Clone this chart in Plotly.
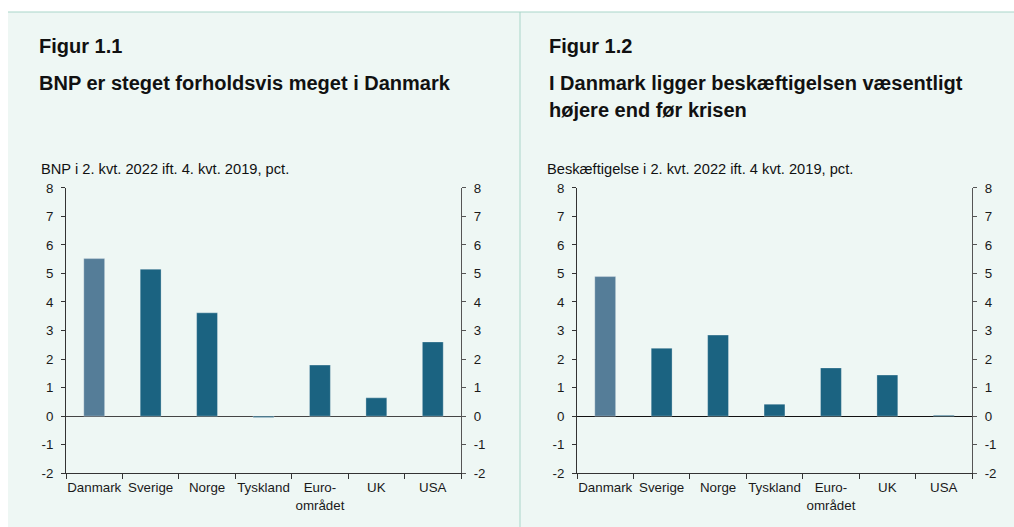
import plotly.graph_objects as go

categories = ["Danmark", "Sverige", "Norge", "Tyskland", "Euro-<br>området", "UK", "USA"]
bnp_values = [5.52, 5.15, 3.62, -0.05, 1.79, 0.64, 2.6]
besk_values = [4.89, 2.38, 2.84, 0.42, 1.69, 1.44, 0.03]
bar_colors = ["#557D98", "#1B6381", "#1B6381", "#1B6381", "#1B6381", "#1B6381", "#1B6381"]
y_ticks = [-2, -1, 0, 1, 2, 3, 4, 5, 6, 7, 8]
y_tick_text = ["-2", "-1", "0", "1", "2", "3", "4", "5", "6", "7", "8"]

W, H = 1014, 527
FONT = "Liberation Sans, Arial, sans-serif"
BG = "#EEF7F4"
BORDER = "#A9D6C9"

# the page shows the figure in a band 8..519 px high; map target pixel rows into it
TOP, SPAN = 8.0, 511.0

def px(x):
    return x / W

def py(y):
    return 1 - (y - TOP) / SPAN

fig = go.Figure()
fig.add_trace(go.Bar(x=categories, y=bnp_values, marker=dict(color=bar_colors, line=dict(color="rgba(255,255,255,0.5)", width=0.6)),
                     xaxis="x", yaxis="y", showlegend=False, hoverinfo="x+y"))
fig.add_trace(go.Bar(x=categories, y=[None]*7, xaxis="x", yaxis="y2", showlegend=False, hoverinfo="skip"))
fig.add_trace(go.Bar(x=categories, y=besk_values, marker=dict(color=bar_colors, line=dict(color="rgba(255,255,255,0.5)", width=0.6)),
                     xaxis="x2", yaxis="y3", showlegend=False, hoverinfo="x+y"))
fig.add_trace(go.Bar(x=categories, y=[None]*7, xaxis="x2", yaxis="y4", showlegend=False, hoverinfo="skip"))

ydom = [py(473.3), py(188.5)]
tickfont = dict(family=FONT, size=13.33, color="#1a1a1a")

def xaxis(dom, anchor):
    return dict(domain=dom, anchor=anchor, type="category", tickson="boundaries", ticks="outside",
                ticklen=5, tickcolor="#333", showline=True, linecolor="#333", linewidth=1, tickangle=0,
                ticklabelstandoff=2,
                tickfont=tickfont, showgrid=False, zeroline=False, fixedrange=True)

def yaxis(anchor, side, overlay=None, linecolor="#333", zerocolor="#333"):
    d = dict(domain=ydom, anchor=anchor, side=side, range=[-2, 8], tickvals=y_ticks, ticktext=y_tick_text,
             ticks="outside", ticklen=4, tickcolor=linecolor, showline=True, linecolor=linecolor, linewidth=1,
             ticklabelstandoff=5,
             tickfont=tickfont, showgrid=False, zeroline=False, fixedrange=True)
    if overlay:
        d["overlaying"] = overlay
    else:
        d["zeroline"] = True
        d["zerolinecolor"] = zerocolor
        d["zerolinewidth"] = 1
    return d

fig.update_layout(
    width=W, height=H,
    margin=dict(l=0, r=0, t=0, b=0),
    paper_bgcolor="white", plot_bgcolor="rgba(0,0,0,0)",
    bargap=0.63,
    font=dict(family=FONT, color="#1a1a1a"),
    xaxis=xaxis([px(66), px(461)], "y"),
    yaxis=yaxis("x", "left", zerocolor="#444"),
    yaxis2=yaxis("x", "right", overlay="y", linecolor="#555"),
    xaxis2=xaxis([px(577), px(972)], "y3"),
    yaxis3=yaxis("x2", "left", zerocolor="#111"),
    yaxis4=yaxis("x2", "right", overlay="y3", linecolor="#555"),
    shapes=[
        dict(type="rect", xref="paper", yref="paper", x0=px(8), x1=1, y0=-0.05, y1=py(13),
             fillcolor=BG, line=dict(width=0), layer="below"),
        dict(type="line", xref="paper", yref="paper", x0=px(8), x1=1, y0=py(13), y1=py(13),
             line=dict(color=BORDER, width=1)),
        dict(type="line", xref="paper", yref="paper", x0=px(520), x1=px(520), y0=-0.05, y1=py(13),
             line=dict(color=BORDER, width=1)),
    ],
)

def ann(x, y, text, size, bold=False):
    fig.add_annotation(x=px(x), y=py(y), xref="paper", yref="paper", xanchor="left", yanchor="middle",
                       text=f"<b>{text}</b>" if bold else text, showarrow=False,
                       font=dict(family=FONT, size=size, color="#111"))

ann(37, 47, "Figur 1.1", 20, True)
ann(37, 84, "BNP er steget forholdsvis meget i Danmark", 20, True)
ann(39, 170, "BNP i 2. kvt. 2022 ift. 4. kvt. 2019, pct.", 14.67)

ann(547, 47, "Figur 1.2", 20, True)
ann(547, 84, "I Danmark ligger beskæftigelsen væsentligt", 20, True)
ann(547, 111, "højere end før krisen", 20, True)
ann(545, 170, "Beskæftigelse i 2. kvt. 2022 ift. 4 kvt. 2019, pct.", 14.67)

page_js = (
    "document.body.style.margin='0';document.body.style.overflow='hidden';"
    "var r=document.documentElement;r.style.height='100%';"
    "r.style.background='linear-gradient(to bottom, #ffffff 50%, rgba(255,255,255,0) 50%),"
    " linear-gradient(to right, #ffffff 8px, #EEF7F4 8px, #EEF7F4 520px, #A9D6C9 520px, #A9D6C9 521px, #EEF7F4 521px)';"
)

fig.write_html("out.html", config={"displayModeBar": False}, post_script=page_js)
